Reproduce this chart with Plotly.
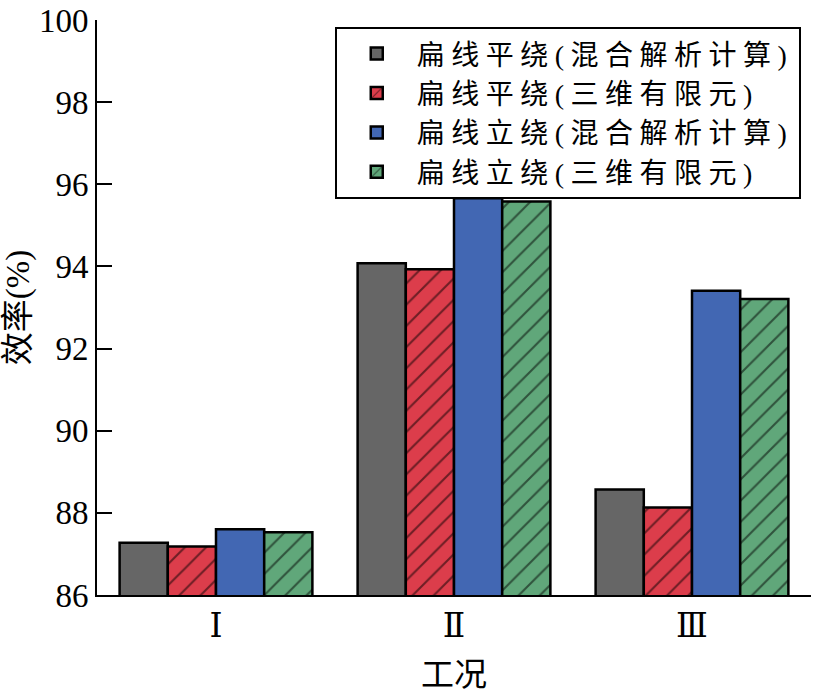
import plotly.graph_objects as go

categories = ["Ⅰ", "Ⅱ", "Ⅲ"]
series_names = [
    "扁线平绕(混合解析计算)",
    "扁线平绕(三维有限元)",
    "扁线立绕(混合解析计算)",
    "扁线立绕(三维有限元)",
]
flat_analytic = [87.27, 94.08, 88.57]
flat_fem = [87.18, 93.93, 88.13]
edge_analytic = [87.60, 95.66, 93.41]
edge_fem = [87.53, 95.58, 93.21]
y_ticks = [86, 88, 90, 92, 94, 96, 98, 100]

values = [flat_analytic, flat_fem, edge_analytic, edge_fem]
colors = ["#666666", "#DC3D4B", "#4267B3", "#60A77A"]
patterns = ["", "/", "", "/"]

FONT = "Liberation Serif, Times New Roman, DejaVu Serif, Noto Sans CJK SC, serif"

fig = go.Figure()
for name, vals, col, pat in zip(series_names, values, colors, patterns):
    fig.add_trace(go.Bar(
        x=categories, y=vals,
        name='<span style="letter-spacing:6.5px">' + name + '</span>',
        marker=dict(
            color=col,
            line=dict(color="black", width=2.5),
            pattern=dict(shape=pat, fgcolor="black", bgcolor=col, size=15, solidity=0.14),
        ),
    ))

fig.update_layout(
    width=813, height=695,
    margin=dict(l=97, r=2, t=20, b=100),
    paper_bgcolor="white", plot_bgcolor="white",
    barmode="group", bargap=0.19, bargroupgap=0,
    font=dict(family=FONT, size=32, color="black"),
    showlegend=True,
    legend=dict(
        x=0.333, y=0.988, xanchor="left", yanchor="top",
        bordercolor="black", borderwidth=2, bgcolor="white",
        font=dict(family=FONT, size=28, color="black"),
        tracegroupgap=0, itemwidth=70,
    ),
    xaxis=dict(
        showline=True, linecolor="black", linewidth=2, mirror=False,
        ticks="", showgrid=False, zeroline=False,
        tickfont=dict(family=FONT, size=33),
        title=dict(text="工况", font=dict(family=FONT, size=33), standoff=20),
    ),
    yaxis=dict(
        range=[86, 100], tickvals=y_ticks,
        showline=True, linecolor="black", linewidth=2, mirror=False,
        ticks="inside", ticklen=15, tickwidth=2, tickcolor="black",
        showgrid=False, zeroline=False,
        tickfont=dict(family=FONT, size=33),
        title=dict(text="效率(%)", font=dict(family=FONT, size=33), standoff=4),
    ),
)

fig.write_html("out.html")
